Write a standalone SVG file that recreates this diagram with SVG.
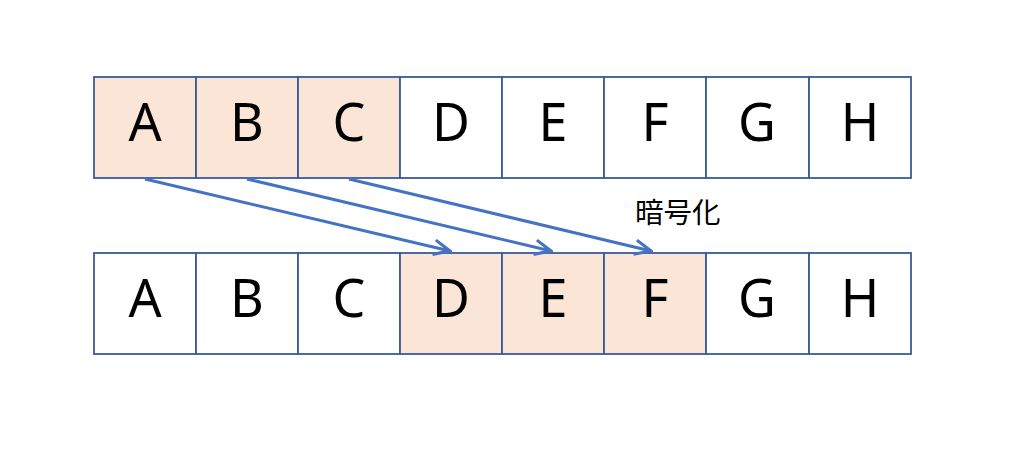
<svg xmlns="http://www.w3.org/2000/svg" width="1024" height="449" viewBox="0 0 1024 449">
<defs>
<style>
.box{stroke:#3A5A9A;stroke-width:1.8}
.hl{fill:#FBE5D6}
.pl{fill:#FFFFFF}
.lt{font-family:"Noto Sans","DejaVu Sans",sans-serif;font-size:52px;fill:#000;text-anchor:middle}
.lbl{font-family:"Noto Sans CJK JP",sans-serif;font-size:28.5px;fill:#000}
.arr{stroke:#4472C4;stroke-width:3;fill:none}
</style>
<marker id="ah" viewBox="0 0 12 12" refX="11" refY="6" markerWidth="6.5" markerHeight="6.5" markerUnits="strokeWidth" orient="auto">
<path d="M1,1.5 L11,6 L1,10.5" fill="none" stroke="#4472C4" stroke-width="1.9" stroke-linejoin="miter"/>
</marker>
</defs>
<rect width="1024" height="449" fill="#FFFFFF"/>
<g id="top-row">
<g id="tA"><rect class="box hl" x="94" y="77" width="102" height="101"/><text class="lt" x="145" y="141">A</text></g>
<g id="tB"><rect class="box hl" x="196" y="77" width="102" height="101"/><text class="lt" x="247" y="141">B</text></g>
<g id="tC"><rect class="box hl" x="298" y="77" width="102" height="101"/><text class="lt" x="349" y="141">C</text></g>
<g id="tD"><rect class="box pl" x="400" y="77" width="102" height="101"/><text class="lt" x="451" y="141">D</text></g>
<g id="tE"><rect class="box pl" x="502" y="77" width="102" height="101"/><text class="lt" x="553" y="141">E</text></g>
<g id="tF"><rect class="box pl" x="604" y="77" width="102" height="101"/><text class="lt" x="655" y="141">F</text></g>
<g id="tG"><rect class="box pl" x="706" y="77" width="103" height="101"/><text class="lt" x="757" y="141">G</text></g>
<g id="tH"><rect class="box pl" x="809" y="77" width="102" height="101"/><text class="lt" x="860" y="141">H</text></g>
</g>
<g id="bottom-row">
<g id="bA"><rect class="box pl" x="94" y="253" width="102" height="101"/><text class="lt" x="145" y="317">A</text></g>
<g id="bB"><rect class="box pl" x="196" y="253" width="102" height="101"/><text class="lt" x="247" y="317">B</text></g>
<g id="bC"><rect class="box pl" x="298" y="253" width="102" height="101"/><text class="lt" x="349" y="317">C</text></g>
<g id="bD"><rect class="box hl" x="400" y="253" width="102" height="101"/><text class="lt" x="451" y="317">D</text></g>
<g id="bE"><rect class="box hl" x="502" y="253" width="102" height="101"/><text class="lt" x="553" y="317">E</text></g>
<g id="bF"><rect class="box hl" x="604" y="253" width="102" height="101"/><text class="lt" x="655" y="317">F</text></g>
<g id="bG"><rect class="box pl" x="706" y="253" width="103" height="101"/><text class="lt" x="757" y="317">G</text></g>
<g id="bH"><rect class="box pl" x="809" y="253" width="102" height="101"/><text class="lt" x="860" y="317">H</text></g>
</g>
<g id="connectors">
<line class="arr" x1="145" y1="179" x2="450" y2="251" marker-end="url(#ah)"/>
<line class="arr" x1="247" y1="179" x2="551" y2="251" marker-end="url(#ah)"/>
<line class="arr" x1="349" y1="179" x2="651" y2="251" marker-end="url(#ah)"/>
</g>
<g id="label"><text class="lbl" x="635" y="223">暗号化</text></g>
</svg>
